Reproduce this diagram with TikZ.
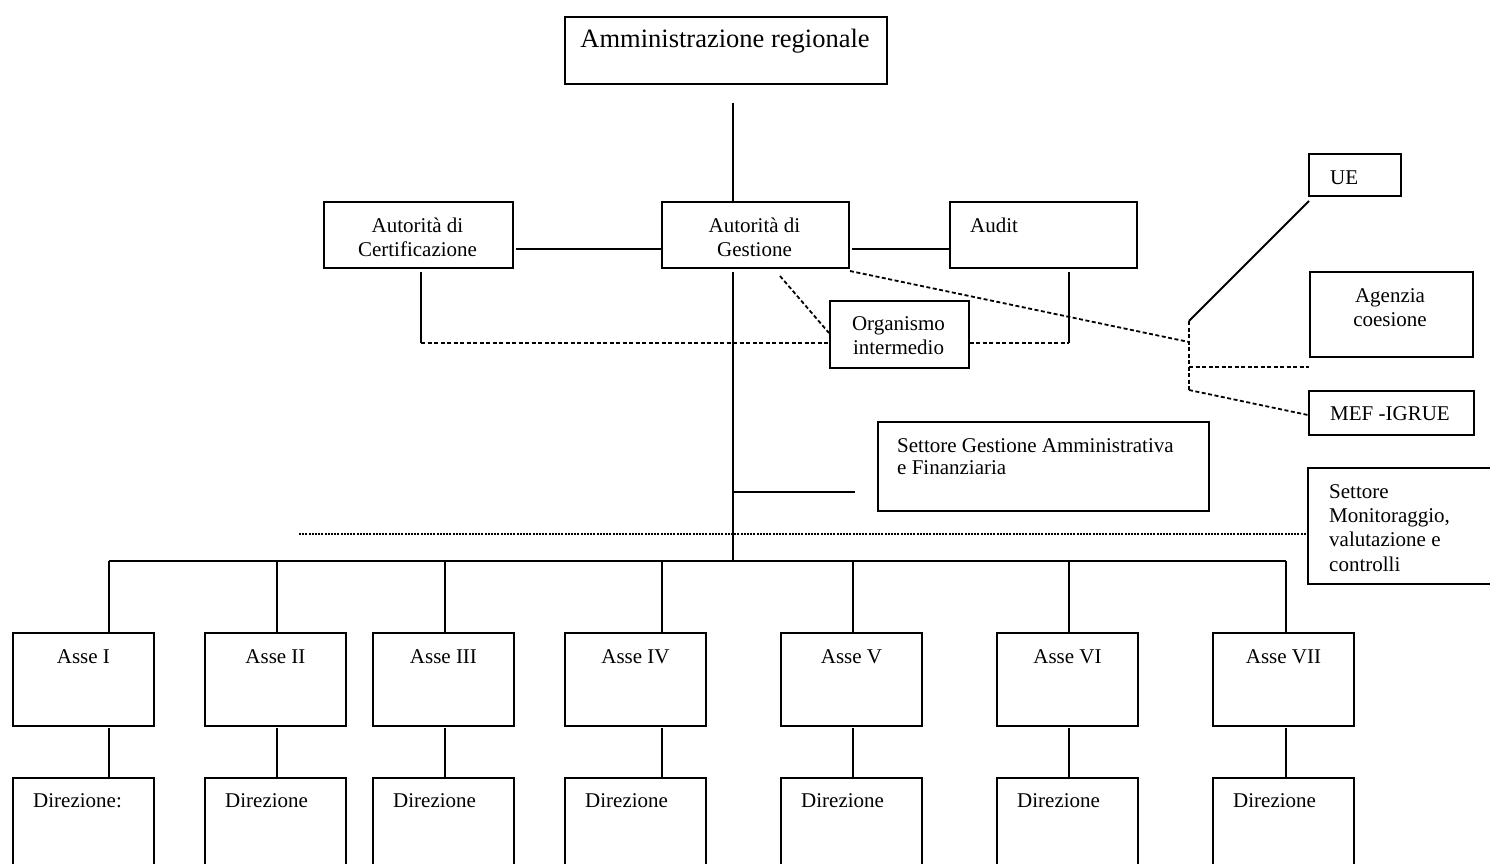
\documentclass[tikz,border=0pt]{standalone}
\usepackage{fontspec}
\setmainfont{Liberation Serif}
\begin{document}
\begin{tikzpicture}[x=1pt,y=-1pt,
  boxst/.style={draw,line width=1.9pt,rectangle,inner sep=0pt,anchor=north west},
  txt/.style={inner sep=0pt,anchor=base,font=\fontsize{21}{24}\selectfont},
  txtl/.style={txt,anchor=base west},
  ttl/.style={inner sep=0pt,anchor=base,font=\fontsize{26.5}{30}\selectfont},
  conn/.style={line width=1.9pt},
  dconn/.style={line width=1.8pt,dash pattern=on 4pt off 2.5pt},
  fconn/.style={line width=1.5pt,dash pattern=on 2pt off 1.2pt}]
\useasboundingbox (0,0) rectangle (1490,863);
\clip (0,0) rectangle (1490,863);
% boxes
\node[boxst,minimum width=322pt,minimum height=67pt] (ar) at (564,16) {};
\node[boxst,minimum width=189pt,minimum height=66pt] (adc) at (323,201) {};
\node[boxst,minimum width=187pt,minimum height=66pt] (adg) at (661,201) {};
\node[boxst,minimum width=187pt,minimum height=66pt] (aud) at (949,201) {};
\node[boxst,minimum width=92pt,minimum height=42pt] (ue) at (1308,153) {};
\node[boxst,minimum width=139pt,minimum height=67pt] (org) at (829,300) {};
\node[boxst,minimum width=163pt,minimum height=85pt] (age) at (1309,271) {};
\node[boxst,minimum width=165pt,minimum height=44pt] (mef) at (1308,390) {};
\node[boxst,minimum width=331pt,minimum height=89pt] (sgaf) at (877,421) {};
\node[boxst,minimum width=200pt,minimum height=116pt] (smvc) at (1307,467) {};
% texts
\node[ttl] (art) at (725,47) {Amministrazione regionale};
\node[txt] (adca) at (417.5,232) {Autorità di};
\node[txt] (adcb) at (417.5,256) {Certificazione};
\node[txt] (adga) at (754.5,232) {Autorità di};
\node[txt] (adgb) at (754.5,256) {Gestione};
\node[txtl] (audt) at (970,232) {Audit};
\node[txtl] (uet) at (1330,184) {UE};
\node[txt] (orga) at (898.5,330) {Organismo};
\node[txt] (orgb) at (898.5,354) {intermedio};
\node[txt] (agea) at (1390,302) {Agenzia};
\node[txt] (ageb) at (1390,326) {coesione};
\node[txt] (meft) at (1390,420) {MEF -IGRUE};
\node[txtl] (sgafa) at (897,452) {Settore Gestione Amministrativa};
\node[txtl] (sgafb) at (897,474) {e Finanziaria};
\node[txtl] (smvca) at (1329,498) {Settore};
\node[txtl] (smvcb) at (1329,522) {Monitoraggio,};
\node[txtl] (smvcc) at (1329,546) {valutazione e};
\node[txtl] (smvcd) at (1329,571) {controlli};
% asse and direzione
\foreach \i/\lab/\xl/\dx in {1/Asse I/12/109, 2/Asse II/204/277, 3/Asse III/372/445, 4/Asse IV/564/662, 5/Asse V/780/853, 6/Asse VI/996/1069, 7/Asse VII/1212/1286}{
  \node[boxst,minimum width=141pt,minimum height=93pt] (asse\i) at (\xl,632) {};
  \node[txt] (asset\i) at (asse\i.north) [yshift=-31pt] {\lab};
  \node[boxst,minimum width=141pt,minimum height=110pt] (dir\i) at (\xl,777) {};
  \coordinate (bus\i) at (\dx,561);
  \coordinate (dtop\i) at (\dx,728);
  \draw[conn] (bus\i) -- (bus\i |- asse\i.north);
  \draw[conn] (dtop\i) -- (dtop\i |- dir\i.north);
}
\foreach \i/\xl in {2/204,3/372,4/564,5/780,6/996,7/1212}{
  \node[txtl] (dirt\i) at (\xl+21,807) {Direzione};
}
\node[txtl] (dirt1) at (33,807) {Direzione:};
% connectors
\coordinate (c1) at (733,103);
\draw[conn] (c1) -- (c1 |- adg.north);
\coordinate (c2) at (516,249);
\draw[conn] (c2) -- (c2 -| adg.west);
\coordinate (c3) at (852,249);
\draw[conn] (c3) -- (c3 -| aud.west);
\coordinate (c4) at (421,272);
\coordinate (c5) at (421,343);
\draw[conn] (c4) -- (c5);
\draw[dconn] (c5) -- (c5 -| org.west);
\coordinate (c6) at (1069,272);
\coordinate (c7) at (1069,343);
\draw[conn] (c6) -- (c7);
\draw[dconn] (c7 -| org.east) -- (c7);
\coordinate (c8) at (733,272);
\draw[conn] (c8) -- (bus4 -| c8);
\coordinate (c9) at (780,276);
\draw[dconn] (c9) -- (829,333);
\coordinate (c10) at (850,271);
\coordinate (j1) at (1189,342);
\coordinate (j0) at (1189,321);
\coordinate (j2) at (1189,367);
\coordinate (j3) at (1189,390);
\draw[dconn] (c10) -- (j1);
\draw[conn] (1309,201) -- (j0);
\draw[dconn] (j0) -- (j3);
\draw[dconn] (j2) -- (j2 -| age.west);
\draw[dconn] (j3) -- (mef.west |- 0,415);
\coordinate (c11) at (733,492);
\draw[conn] (c11) -- (855,492);
\coordinate (c12) at (299,534);
\draw[fconn] (c12) -- (c12 -| smvc.west);
\draw[conn] (bus1) -- (bus7);
\end{tikzpicture}
\end{document}
